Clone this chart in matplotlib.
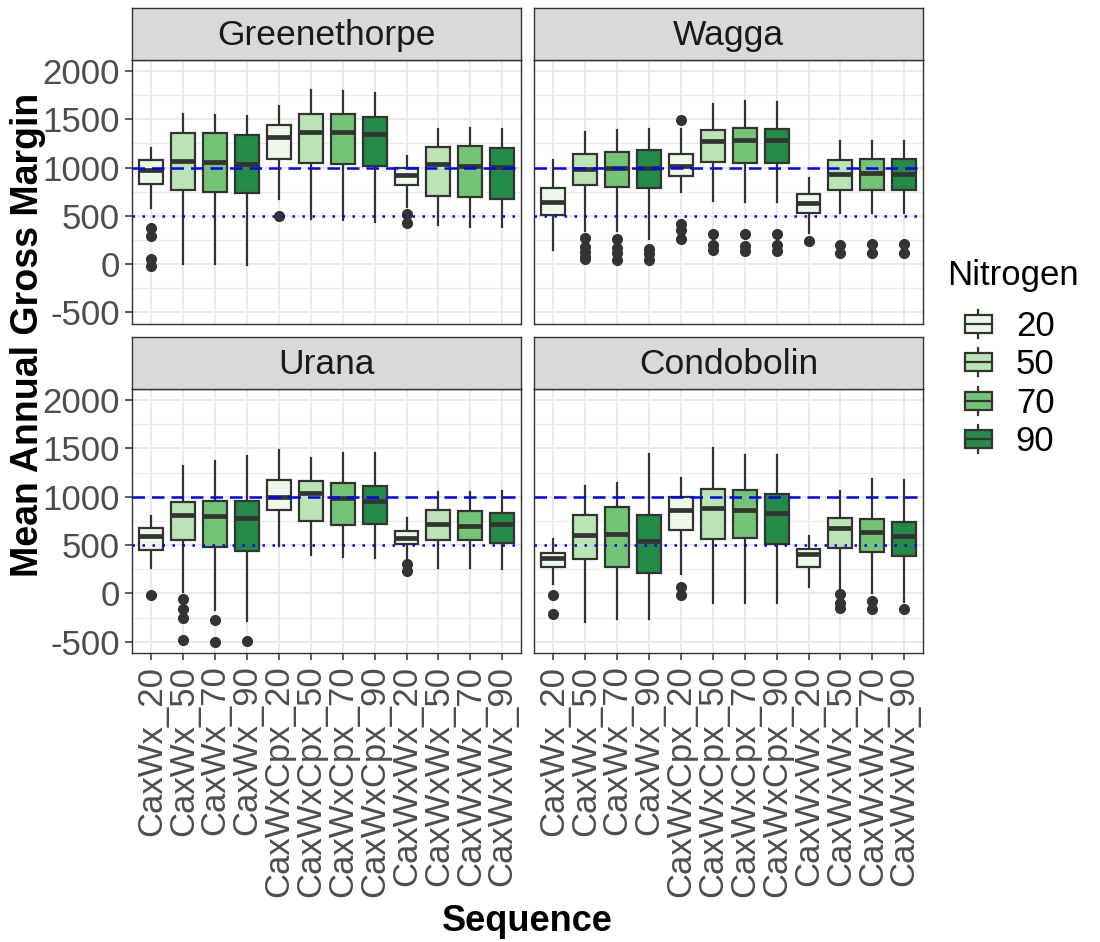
import matplotlib
matplotlib.use('Agg')
import matplotlib.pyplot as plt
from matplotlib.patches import Patch, Rectangle
from matplotlib.lines import Line2D
from matplotlib.legend_handler import HandlerBase
from matplotlib.ticker import FixedLocator
import numpy as np

plt.rcParams['font.family'] = ['Liberation Sans', 'DejaVu Sans']

sequences = ['CaxWx', 'CaxWxCpx', 'CaxWxWx']
nitrogen = ['20', '50', '70', '90']
categories = [f'{s}_{n}' for s in sequences for n in nitrogen]
sites = ['Greenethorpe', 'Wagga', 'Urana', 'Condobolin']
fill_colors = ['#EDF8E9', '#BAE4B3', '#74C476', '#238B45']

# Greenethorpe
green_lo = [583, 0, 0, -10, 669, 469, 452, 438, 593, 400, 386, 379]
green_q1 = [834, 769, 748, 731, 1090, 1052, 1034, 1021, 817, 710, 693, 679]
green_med = [979, 1065, 1055, 1038, 1321, 1365, 1365, 1345, 921, 1034, 1021, 1010]
green_q3 = [1076, 1359, 1359, 1338, 1445, 1552, 1558, 1524, 1000, 1214, 1221, 1207]
green_hi = [1207, 1558, 1548, 1534, 1638, 1800, 1796, 1776, 1117, 1403, 1410, 1403]
green_out = [[376, 293, 52, -17], [], [], [], [497], [], [], [], [517, 421], [], [], []]

# Wagga
wagga_lo = [145, 345, 345, 255, 748, 655, 645, 638, 317, 531, 524, 524]
wagga_q1 = [507, 814, 800, 790, 917, 1059, 1052, 1052, 531, 772, 765, 765]
wagga_med = [645, 990, 996, 996, 1014, 1276, 1290, 1290, 634, 938, 945, 931]
wagga_q3 = [783, 1145, 1162, 1179, 1138, 1386, 1410, 1396, 724, 1076, 1090, 1093]
wagga_hi = [1083, 1369, 1386, 1403, 1403, 1662, 1690, 1683, 896, 1276, 1276, 1276]
wagga_out = [[], [265, 172, 128, 76, 48], [259, 169, 117, 41], [155, 103, 41],
             [1490, 410, 352, 259], [310, 197, 145], [310, 186, 134], [310, 197, 134],
             [238], [197, 110], [203, 110], [203, 110]]

# Urana
urana_lo = [264, 10, -177, -285, 490, 396, 378, 365, 344, 264, 264, 254]
urana_q1 = [451, 556, 479, 438, 868, 750, 708, 715, 507, 556, 549, 521]
urana_med = [590, 813, 799, 785, 993, 1035, 983, 958, 576, 715, 694, 715]
urana_q3 = [674, 941, 958, 955, 1177, 1160, 1142, 1115, 646, 861, 854, 830]
urana_hi = [802, 1316, 1375, 1417, 1486, 1399, 1455, 1455, 778, 1045, 1045, 1062]
urana_out = [[-14], [-59, -163, -250, -483], [-271, -500], [-493], [], [], [], [],
             [309, 236], [], [], []]

# Condobolin
condo_lo = [97, -292, -264, -264, 205, -101, -101, -101, 69, 38, 5, -90]
condo_q1 = [278, 351, 274, 212, 653, 559, 576, 507, 278, 472, 427, 385]
condo_med = [361, 604, 618, 538, 865, 882, 865, 833, 403, 681, 639, 594]
condo_q3 = [417, 813, 892, 813, 993, 1080, 1069, 1028, 462, 785, 767, 740]
condo_hi = [559, 1115, 1146, 1444, 1191, 1507, 1434, 1437, 594, 1062, 1184, 1177]
condo_out = [[-21, -212], [], [], [], [62, -21], [], [], [], [],
             [-7, -101, -153], [-76, -160], [-160]]

site_data = {
    'Greenethorpe': (green_lo, green_q1, green_med, green_q3, green_hi, green_out),
    'Wagga': (wagga_lo, wagga_q1, wagga_med, wagga_q3, wagga_hi, wagga_out),
    'Urana': (urana_lo, urana_q1, urana_med, urana_q3, urana_hi, urana_out),
    'Condobolin': (condo_lo, condo_q1, condo_med, condo_q3, condo_hi, condo_out),
}

W, H = 1100, 942
fig = plt.figure(figsize=(W / 100, H / 100), dpi=100)

EDGE = '#333333'
TICKC = '#4D4D4D'
col_x = [132.3, 534.3]
pw = 389
rows = [(7.5, 60, 323.5), (337, 389, 653)]  # strip top, panel top, panel bottom

def fx(px):
    return px / W

def fy(py):
    return 1 - py / H

positions = np.arange(len(categories))

for i, site in enumerate(sites):
    r, c = divmod(i, 2)
    st, pt, pb = rows[r]
    x0 = col_x[c]
    ax = fig.add_axes([fx(x0), fy(pb), pw / W, (pb - pt) / H])
    sax = fig.add_axes([fx(x0), fy(pt), pw / W, (pt - st) / H])

    lo, q1, med, q3, hi, out = site_data[site]
    stats = []
    for k in range(len(categories)):
        stats.append(dict(whislo=lo[k], q1=q1[k], med=med[k], q3=q3[k],
                          whishi=hi[k], fliers=out[k], label=categories[k]))
    bp = ax.bxp(stats, positions=positions, widths=0.75, patch_artist=True,
                showcaps=False, manage_ticks=False,
                boxprops=dict(edgecolor=EDGE, linewidth=1.6),
                medianprops=dict(color=EDGE, linewidth=3.4, solid_capstyle='butt'),
                whiskerprops=dict(color=EDGE, linewidth=1.6),
                flierprops=dict(marker='o', markerfacecolor=EDGE, markeredgecolor=EDGE,
                                markersize=7, linestyle='none'))
    for k, patch in enumerate(bp['boxes']):
        patch.set_facecolor(fill_colors[k % 4])
        patch.set_zorder(3)
    for m in bp['medians']:
        m.set_zorder(3.1)

    ax.axhline(1000, color='#0000FF', lw=1.8, ls=(0, (5, 2.8)), zorder=5)
    ax.axhline(500, color='#0000FF', lw=1.8, ls=(0, (1, 3)), zorder=5)

    ax.set_xlim(-0.6, len(categories) - 0.4)
    ax.set_ylim(-617, 2115)
    ax.set_yticks([-500, 0, 500, 1000, 1500, 2000])
    ax.yaxis.set_minor_locator(FixedLocator([-250, 250, 750, 1250, 1750]))
    ax.set_xticks(positions)
    ax.set_xticklabels(categories, rotation=90, fontsize=25, color=TICKC)
    ax.set_yticklabels(['-500', '0', '500', '1000', '1500', '2000'], fontsize=25, color=TICKC)
    ax.grid(True, which='major', color='#EBEBEB', lw=1.4)
    ax.grid(True, which='minor', axis='y', color='#EBEBEB', lw=0.8)
    ax.set_axisbelow(True)
    ax.tick_params(which='minor', length=0)
    ax.tick_params(which='major', color=EDGE, length=5, width=1.1, pad=4)
    for sp in ax.spines.values():
        sp.set_color(EDGE)
        sp.set_linewidth(1.0)
    if c == 1:
        ax.tick_params(left=False, labelleft=False)
    if r == 0:
        ax.tick_params(bottom=False, labelbottom=False)

    sax.set_facecolor('#D9D9D9')
    sax.set_xticks([])
    sax.set_yticks([])
    for sp in sax.spines.values():
        sp.set_color(EDGE)
        sp.set_linewidth(1.0)
    sax.text(0.5, 0.47, site, transform=sax.transAxes, ha='center', va='center',
             fontsize=25.5, color='#1A1A1A')

fig.text(fx(28), fy(335), 'Mean Annual Gross Margin', rotation=90, ha='center',
         va='center', fontsize=27, fontweight='bold')
fig.text(fx(527.5), fy(931), 'Sequence', ha='center', va='baseline',
         fontsize=26, fontweight='bold')


class BoxKeyHandler(HandlerBase):
    def create_artists(self, legend, orig_handle, xdescent, ydescent, width, height,
                       fontsize, trans):
        x0, y0 = -xdescent, -ydescent
        cx, cy = x0 + width / 2, y0 + height / 2
        bw, bh = width * 0.8, height * 0.6
        rect = Rectangle((cx - bw / 2, cy - bh / 2), bw, bh,
                         facecolor=orig_handle.get_facecolor(), edgecolor=EDGE,
                         lw=1.6, transform=trans)
        med = Line2D([cx - bw / 2, cx + bw / 2], [cy, cy], color=EDGE, lw=1.6,
                     transform=trans)
        wu = Line2D([cx, cx], [cy + bh / 2, y0 + height * 0.97], color=EDGE, lw=1.6,
                    transform=trans)
        wd = Line2D([cx, cx], [y0 + height * 0.03, cy - bh / 2], color=EDGE, lw=1.6,
                    transform=trans)
        return [wu, wd, rect, med]


fig.text(fx(947), fy(285), 'Nitrogen', ha='left', va='baseline', fontsize=25,
         color='black')
handles = [Patch(facecolor=col) for col in fill_colors]
leg = fig.legend(handles, nitrogen, loc='upper left',
                 bbox_to_anchor=(fx(962), fy(309)), frameon=False,
                 fontsize=25, handlelength=0.95, handleheight=0.95,
                 handletextpad=0.6, labelspacing=0.13, borderpad=0, borderaxespad=0,
                 handler_map={Patch: BoxKeyHandler()})

fig.savefig('out.png', dpi=100)
